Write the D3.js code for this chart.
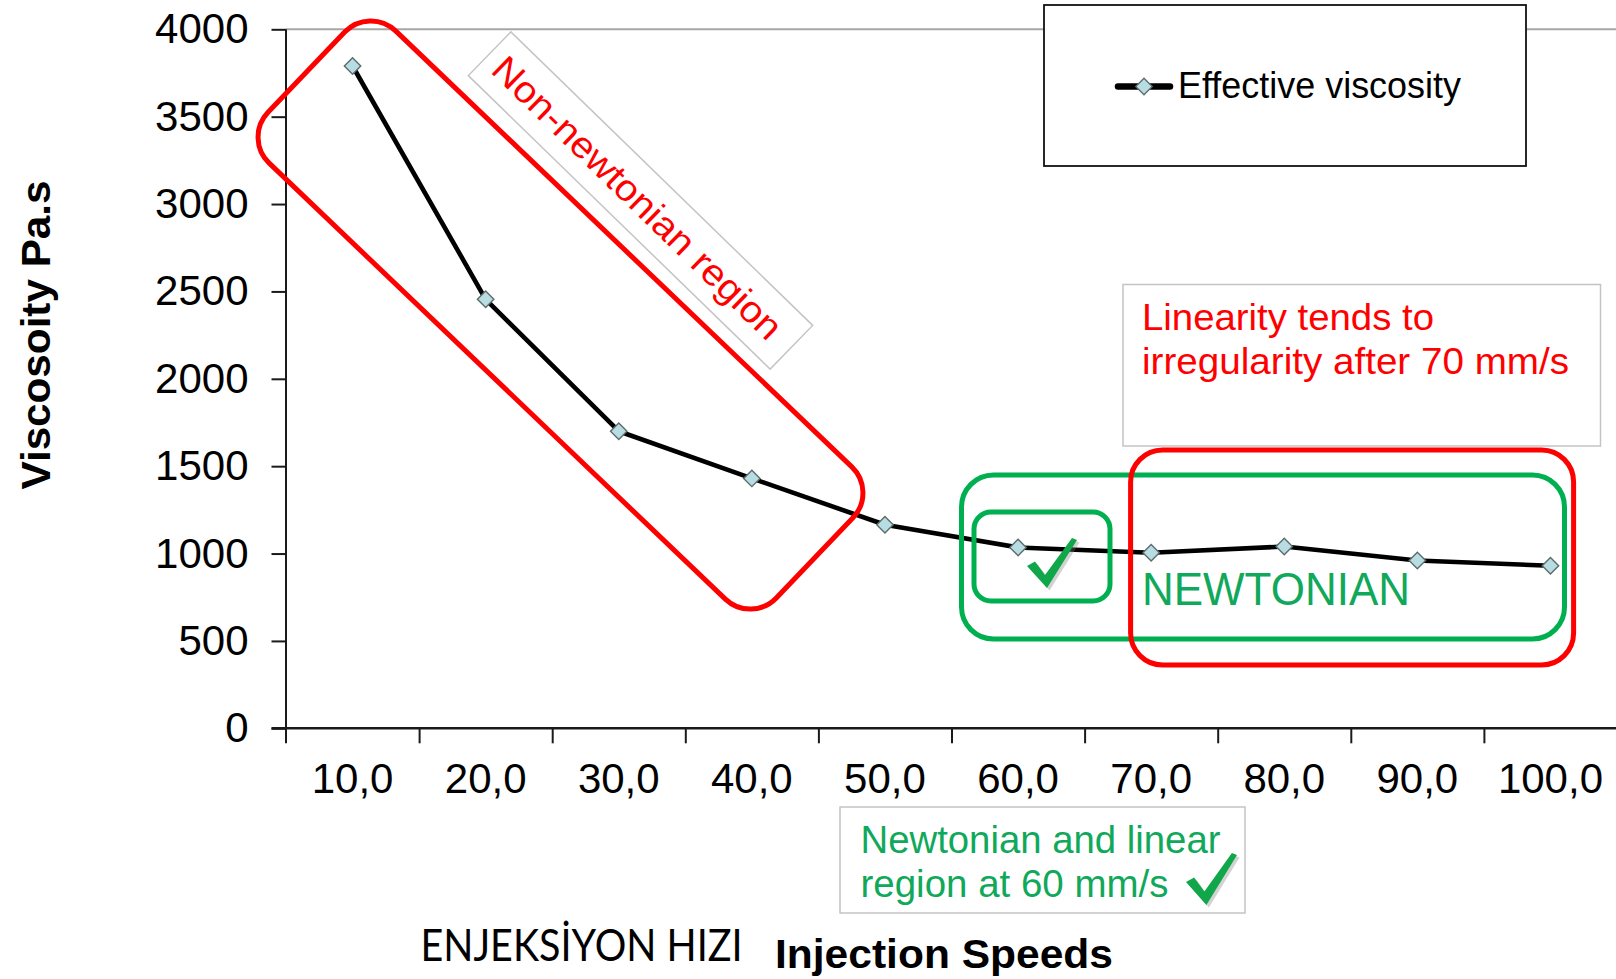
<!DOCTYPE html>
<html>
<head>
<meta charset="utf-8">
<script src="https://cdn.jsdelivr.net/npm/d3@7/dist/d3.min.js"></script>
<style>
  html, body { margin: 0; padding: 0; background: #fff; }
  svg { display: block; }
  text { font-family: "Liberation Sans", Arial, sans-serif; }
</style>
</head>
<body>
<svg id="chart" width="1616" height="979"></svg>
<script>
// Injection speed (mm/s) categories and measured effective viscosity (Pa.s)
const speeds = [10, 20, 30, 40, 50, 60, 70, 80, 90, 100];
const viscosity = [3790, 2455, 1700, 1430, 1165, 1035, 1005, 1040, 960, 930];
const yTicks = [0, 500, 1000, 1500, 2000, 2500, 3000, 3500, 4000];
const speedLabel = d => d3.format(".1f")(d).replace(".", ",");

const RED = "#ff0000";
const GREEN = "#00b050";

const svg = d3.select("#chart");

const plot = { left: 286, right: 1617, top: 29.3, bottom: 728.3 };

const x = d3.scaleBand().domain(speeds).range([plot.left, plot.right]).padding(0);
const xEdge = d3.scaleLinear().domain([0, speeds.length]).range([plot.left, plot.right]);
const y = d3.scaleLinear().domain([0, 4000]).range([plot.bottom, plot.top]);
const cx = d => x(d) + x.bandwidth() / 2;

// top border of the plot area
svg.append("line")
  .attr("x1", plot.left).attr("x2", 1616)
  .attr("y1", y(4000)).attr("y2", y(4000))
  .attr("stroke", "#a6a6a6").attr("stroke-width", 2);

// y axis
const yAxis = svg.append("g")
  .attr("transform", `translate(${plot.left},0)`)
  .call(d3.axisLeft(y).tickValues(yTicks).tickFormat(d3.format("d"))
    .tickSize(14.5).tickPadding(23).tickSizeOuter(0));
yAxis.select(".domain").remove();
yAxis.selectAll(".tick line").attr("stroke", "#1a1a1a").attr("stroke-width", 2);
yAxis.selectAll(".tick text")
  .attr("fill", "#000").style("font-size", "42px")
  .style("font-family", "'Liberation Sans', Arial, sans-serif");
svg.append("line")
  .attr("x1", plot.left).attr("x2", plot.left)
  .attr("y1", y(4000)).attr("y2", plot.bottom + 15)
  .attr("stroke", "#1a1a1a").attr("stroke-width", 2);

// x axis: ticks sit on category boundaries
const xTicks = svg.append("g")
  .attr("transform", `translate(0,${plot.bottom})`)
  .call(d3.axisBottom(xEdge).tickValues(d3.range(1, speeds.length)).tickSize(15).tickFormat(""));
xTicks.select(".domain").remove();
xTicks.selectAll(".tick line").attr("stroke", "#1a1a1a").attr("stroke-width", 2);
svg.append("line")
  .attr("x1", plot.left - 14.5).attr("x2", 1616)
  .attr("y1", plot.bottom).attr("y2", plot.bottom)
  .attr("stroke", "#1a1a1a").attr("stroke-width", 2.5);

// x category labels
const xLabels = svg.append("g")
  .attr("transform", `translate(0,${plot.bottom})`)
  .call(d3.axisBottom(x).tickSize(0).tickPadding(35).tickFormat(speedLabel));
xLabels.select(".domain").remove();
xLabels.selectAll(".tick text")
  .attr("fill", "#000").style("font-size", "42px")
  .style("font-family", "'Liberation Sans', Arial, sans-serif");

// axis titles
svg.append("text")
  .attr("transform", "translate(50,335) rotate(-90)")
  .attr("text-anchor", "middle")
  .attr("textLength", 309).attr("lengthAdjust", "spacingAndGlyphs")
  .style("font-size", "40px").style("font-weight", "bold")
  .text("Viscosoity Pa.s");

svg.append("text")
  .attr("x", 775).attr("y", 968)
  .attr("textLength", 338).attr("lengthAdjust", "spacingAndGlyphs")
  .style("font-size", "41px").style("font-weight", "bold")
  .text("Injection Speeds");

svg.append("text")
  .attr("x", 420.5).attr("y", 961)
  .attr("textLength", 322).attr("lengthAdjust", "spacingAndGlyphs")
  .style("font-family", "Lato, 'Open Sans', sans-serif")
  .style("font-size", "45px")
  .text("ENJEKSİYON HIZI");

// data series
const line = d3.line().x((d, i) => cx(speeds[i])).y(d => y(d));
svg.append("path")
  .datum(viscosity)
  .attr("d", line)
  .attr("fill", "none")
  .attr("stroke", "#000")
  .attr("stroke-width", 4.6)
  .attr("stroke-linejoin", "round");

const diamond = d3.symbol().type(d3.symbolSquare).size(135);
svg.append("g").selectAll("path")
  .data(viscosity)
  .join("path")
  .attr("d", diamond)
  .attr("transform", (d, i) => `translate(${cx(speeds[i])},${y(d)}) rotate(45)`)
  .attr("fill", "#b7dde2")
  .attr("stroke", "#5d6b6b")
  .attr("stroke-width", 1.4);

// check mark helper (filled brush-style tick with soft shadow)
function checkMark(g, x0, y0, w, h) {
  const p = d3.path();
  const pts = [[0.00, 0.56], [0.16, 0.47], [0.36, 0.74], [0.90, 0.00], [1.00, 0.04], [0.40, 1.00]];
  pts.forEach((pt, i) => {
    const px = x0 + pt[0] * w, py = y0 + pt[1] * h;
    if (i === 0) p.moveTo(px, py); else p.lineTo(px, py);
  });
  p.closePath();
  g.append("path").attr("d", p.toString())
    .attr("transform", "translate(2.5,2.5)")
    .attr("fill", "#7f7f7f").attr("opacity", 0.35);
  g.append("path").attr("d", p.toString()).attr("fill", "#10a64a");
}

// non-newtonian region outline and label
svg.append("rect")
  .attr("x", -351.5).attr("y", -91.5).attr("width", 703).attr("height", 183)
  .attr("rx", 36).attr("ry", 36)
  .attr("transform", "translate(560.5,315) rotate(43.7)")
  .attr("fill", "none").attr("stroke", RED).attr("stroke-width", 5);

const nnLabel = svg.append("g").attr("transform", "translate(640.5,200.5) rotate(44.2)");
nnLabel.append("rect")
  .attr("x", -210.5).attr("y", -30.5).attr("width", 421).attr("height", 61)
  .attr("fill", "#fff").attr("stroke", "#c4c4c4").attr("stroke-width", 1.5);
nnLabel.append("text")
  .attr("x", -4).attr("y", 0).attr("dy", "0.35em")
  .attr("text-anchor", "middle")
  .attr("textLength", 388).attr("lengthAdjust", "spacingAndGlyphs")
  .attr("fill", RED).style("font-size", "37px")
  .text("Non-newtonian region");

// newtonian region outlines
svg.append("rect")
  .attr("x", 961.5).attr("y", 475).attr("width", 603).attr("height", 164)
  .attr("rx", 32).attr("fill", "none").attr("stroke", GREEN).attr("stroke-width", 5);
svg.append("rect")
  .attr("x", 974).attr("y", 512).attr("width", 136).attr("height", 89)
  .attr("rx", 17).attr("fill", "none").attr("stroke", GREEN).attr("stroke-width", 5);
svg.append("rect")
  .attr("x", 1130.6).attr("y", 450).attr("width", 443).attr("height", 215)
  .attr("rx", 32).attr("fill", "none").attr("stroke", RED).attr("stroke-width", 5);

checkMark(svg.append("g"), 1027, 538, 50, 50);

svg.append("text")
  .attr("x", 1142).attr("y", 605)
  .attr("textLength", 268).attr("lengthAdjust", "spacingAndGlyphs")
  .attr("fill", "#10a85a").style("font-size", "47px")
  .text("NEWTONIAN");

// linearity note
svg.append("rect")
  .attr("x", 1123).attr("y", 284.5).attr("width", 477.5).attr("height", 161.5)
  .attr("fill", "#fff").attr("stroke", "#c4c4c4").attr("stroke-width", 1.5);
svg.append("text")
  .attr("x", 1142).attr("y", 330)
  .attr("textLength", 292).attr("lengthAdjust", "spacingAndGlyphs")
  .attr("fill", RED).style("font-size", "36px")
  .text("Linearity tends to");
svg.append("text")
  .attr("x", 1142).attr("y", 374)
  .attr("textLength", 427).attr("lengthAdjust", "spacingAndGlyphs")
  .attr("fill", RED).style("font-size", "36px")
  .text("irregularity after 70 mm/s");

// 60 mm/s note
svg.append("rect")
  .attr("x", 840).attr("y", 807).attr("width", 405).attr("height", 106)
  .attr("fill", "#fff").attr("stroke", "#c4c4c4").attr("stroke-width", 1.5);
svg.append("text")
  .attr("x", 860.5).attr("y", 853)
  .attr("textLength", 360).attr("lengthAdjust", "spacingAndGlyphs")
  .attr("fill", "#10a85a").style("font-size", "38px")
  .text("Newtonian and linear");
svg.append("text")
  .attr("x", 860.5).attr("y", 897)
  .attr("textLength", 308).attr("lengthAdjust", "spacingAndGlyphs")
  .attr("fill", "#10a85a").style("font-size", "38px")
  .text("region at 60 mm/s");
checkMark(svg.append("g"), 1186, 853, 51, 52);

// legend
const legend = svg.append("g");
legend.append("rect")
  .attr("x", 1044).attr("y", 5).attr("width", 482).attr("height", 161)
  .attr("fill", "#fff").attr("stroke", "#111").attr("stroke-width", 1.8);
legend.append("line")
  .attr("x1", 1118).attr("x2", 1170).attr("y1", 86.5).attr("y2", 86.5)
  .attr("stroke", "#000").attr("stroke-width", 6.5).attr("stroke-linecap", "round");
legend.append("path")
  .attr("d", diamond)
  .attr("transform", "translate(1144,86.5) rotate(45)")
  .attr("fill", "#b7dde2").attr("stroke", "#5d6b6b").attr("stroke-width", 1.3);
legend.append("text")
  .attr("x", 1178).attr("y", 98)
  .attr("textLength", 283).attr("lengthAdjust", "spacingAndGlyphs")
  .style("font-size", "36px")
  .text("Effective viscosity");
</script>
</body>
</html>
